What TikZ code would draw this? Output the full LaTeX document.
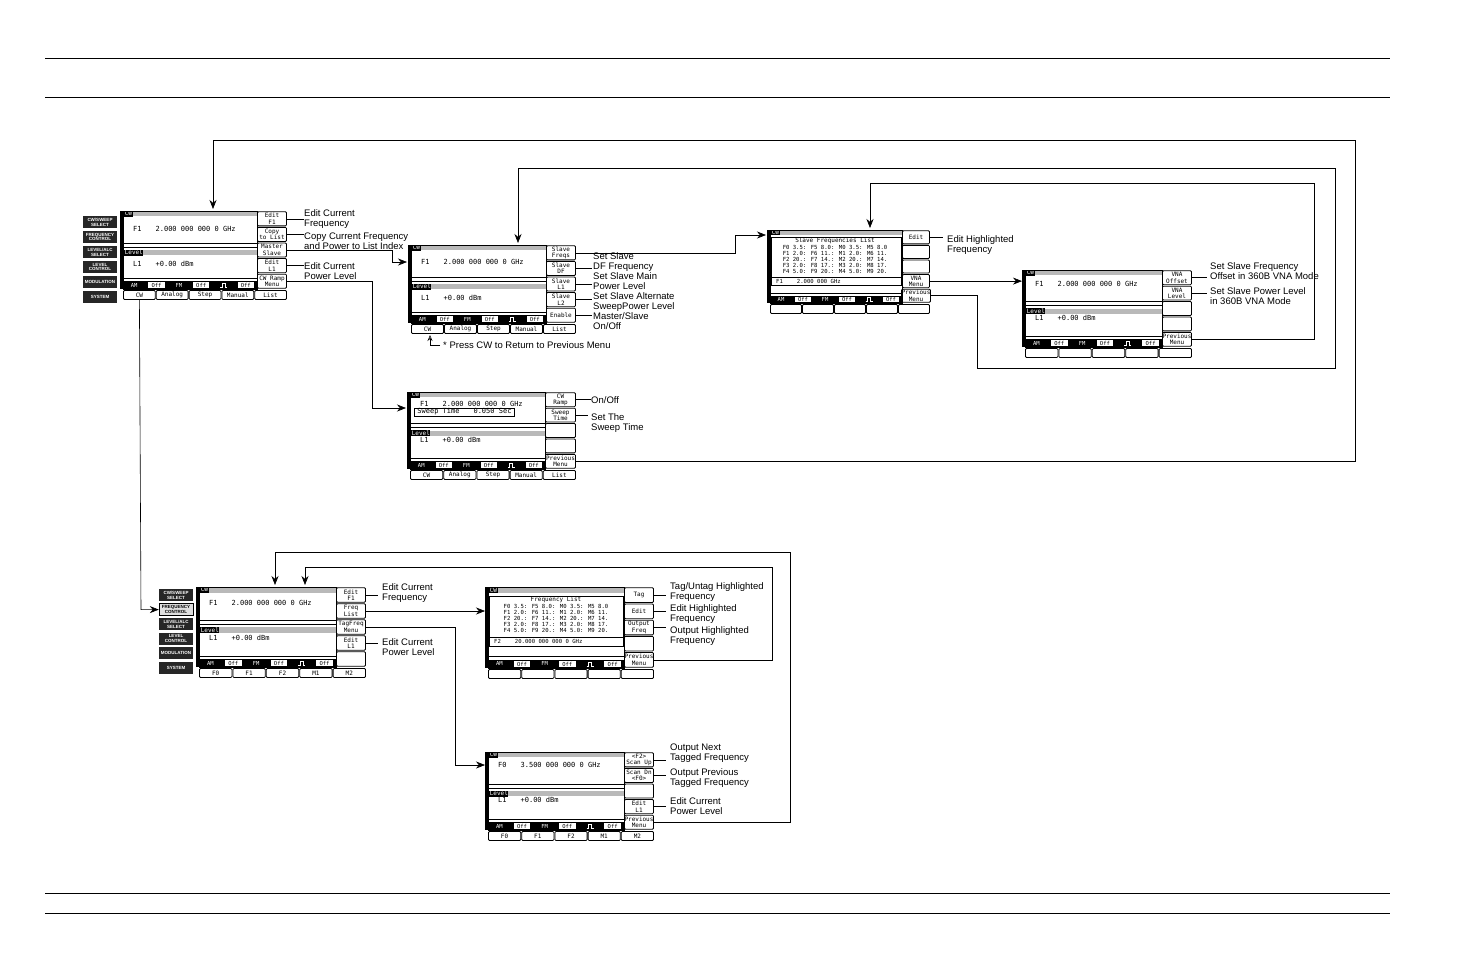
\documentclass[tikz,border=0pt]{standalone}
\usepackage{fontspec}
\setmainfont{Liberation Sans}
\newfontfamily\mono{DejaVu Sans Mono}
\usetikzlibrary{arrows.meta,calc}
\tikzset{
 hatchc/.style={fill=gray!55},
 hdr/.style={fill=black,text=white,font=\mono\fontsize{6}{6}\selectfont,inner sep=0.6pt,anchor=west},
 keyb/.style={draw,thick,rounded corners=1pt,font=\mono\fontsize{6}{6.5}\selectfont,align=center,inner sep=0pt},
 tabb/.style={draw,thick,rounded corners=1pt,font=\mono\fontsize{6}{6.5}\selectfont,inner sep=0pt},
 scrtxt/.style={font=\mono\fontsize{7}{7}\selectfont,anchor=west,inner sep=0pt},
 lbl/.style={font=\fontsize{9.5}{10}\selectfont,align=left,anchor=west,inner sep=0pt},
 conn/.style={line width=0.6pt},
 arr/.style={line width=0.6pt,-{Stealth[length=9pt,width=7pt]}},
 pnl/.style={fill=black!85,text=white,font=\fontsize{4.5}{4.8}\selectfont\bfseries,align=center,inner sep=0pt,minimum width=34,minimum height=12},
}
\newcommand\pulse{\tikz[white,line width=.6pt,baseline=0pt]\draw (0,0)--(2pt,0)--(2pt,4pt)--(5pt,4pt)--(5pt,0)--(7pt,0);}
\newcommand\gap{\hspace{14pt}}
% #1 name #2 x #3 y #4 W #5 H #6 KW #7 keys #8 tabs
\newcommand\scr[8]{%
 \coordinate (#1nw) at (#2,#3);
 \fill (#2-3,#3) rectangle (#2,#3+#5);
 \fill[hatchc] (#2,#3) rectangle (#2+#4,#3+0.07*#5);
 \node[hdr] at (#2+1,#3+0.035*#5) {CW};
 \draw (#2,#3+0.41*#5) -- ++(#4,0);
 \draw (#2,#3+0.46*#5) -- ++(#4,0);
 \fill[hatchc] (#2,#3+0.5*#5) rectangle (#2+#4,#3+0.57*#5);
 \node[hdr] at (#2+1,#3+0.535*#5) {Level};
 \draw (#2,#3+0.86*#5) -- ++(#4,0);
 \fill (#2,#3+0.9*#5) rectangle (#2+#4,#3+#5);
 \foreach \s [count=\j] in {AM,Off,FM,Off,\pulse,Off}{
   \ifodd\j
    \node[font=\mono\fontsize{5.5}{6}\selectfont,text=white,inner sep=0pt] at ({#2+(\j-0.5)*#4/6},{#3+0.95*#5}) {\s};
   \else
    \node[fill=white,font=\mono\fontsize{5.5}{6}\selectfont,inner sep=0.5pt,minimum width={#4/6-6},minimum height={0.1*#5-2}] at ({#2+(\j-0.5)*#4/6},{#3+0.95*#5}) {\s};
   \fi}
 \draw[thick] (#2,#3) rectangle (#2+#4,#3+#5);
 \foreach \k [count=\i] in {#7}{
   \node[keyb,minimum width=#6-1,minimum height={#5/5-1.5}] (#1k\i) at ({#2+#4+#6/2},{#3+(\i-0.5)*#5/5}) {\k};}
 \foreach \t [count=\i] in {#8}{
   \node[tabb,minimum width={(#4+#6)/5-1},minimum height=9] (#1t\i) at ({#2+(\i-0.5)*(#4+#6)/5},{#3+#5+6}) {\t};}
}
\newcommand\panel[5]{%
 \foreach \p [count=\i] in {{CW/SWEEP\\SELECT},{FREQUENCY\\CONTROL},{LEVEL/ALC\\SELECT},{LEVEL\\CONTROL},MODULATION,SYSTEM}{
  \ifnum\i=#4
   \node[pnl,fill=gray!25,text=black,draw] (#5\i) at (#1,{#2+(\i-1)*#3}) {\p};
  \else
   \node[pnl] (#5\i) at (#1,{#2+(\i-1)*#3}) {\p};
  \fi}}
\newcommand\flist[1]{\begin{tabular}{@{}l@{}}F0 3.5: F5 8.0: M0 3.5: M5 8.0\\F1 2.0: F6 11.: M1 2.0: M6 11.\\F2 20.: F7 14.: M2 20.: M7 14.\\F3 2.0: F8 17.: M3 2.0: M8 17.\\F4 5.0: F9 20.: M4 5.0: M9 20.\end{tabular}}
\begin{document}
\begin{tikzpicture}[x=1pt,y=-1pt]
\useasboundingbox (0,0) rectangle (1475,954);
\draw[line width=0.8pt] (45,58) -- (1390,58);
\draw[line width=0.8pt] (45,97) -- (1390,97);
\draw[line width=0.8pt] (45,893) -- (1390,893);
\draw[line width=0.8pt] (45,913) -- (1390,913);

% Screen 1
\panel{100}{222}{15}{0}{pa}
\scr{s1}{123}{211}{134}{78}{30}{{Edit\\F1},{Copy\\to List},{Master\\Slave},{Edit\\L1},{CW Ramp\\Menu}}{CW,Analog,Step,Manual,List}
\node[scrtxt] at (133,229) {F1\gap 2.000 000 000 0 GHz};
\node[scrtxt] at (133,264) {L1\gap +0.00 dBm};
\node[lbl] (a1) at (304,219) {Edit Current\\Frequency};
\node[lbl] (a2) at (304,241) {Copy Current Frequency\\and Power to List Index};
\node[lbl] (a3) at (304,271) {Edit Current\\Power Level};
\draw[conn] (s1k1.east) -- (a1.west|-s1k1.east);
\draw[conn] (s1k2.east) -- (a2.west|-s1k2.east);
\draw[conn] (s1k4.east) -- (a3.west|-s1k4.east);

% Screen 2
\scr{s2}{411}{245}{135}{78}{30}{{Slave\\Freqs},{Slave\\DF},{Slave\\L1},{Slave\\L2},Enable}{CW,Analog,Step,Manual,List}
\node[scrtxt] at (421,262) {F1\gap 2.000 000 000 0 GHz};
\node[scrtxt] at (421,298) {L1\gap +0.00 dBm};
\node[lbl,anchor=north west] (b0) at (593,252) {Set Slave\\DF Frequency\\Set Slave Main\\Power Level\\Set Slave Alternate\\SweepPower Level\\Master/Slave\\On/Off};
\draw[conn] (s2k2.east) -- (592,0 |- s2k2.east);
\draw[conn] (s2k3.east) -- (592,0 |- s2k3.east);
\draw[conn] (s2k4.east) -- (592,0 |- s2k4.east);
\draw[conn] (s2k5.east) -- (592,0 |- s2k5.east);
\coordinate (pc) at (430,345);
\draw[line width=0.6pt,-{Stealth[length=6pt,width=5pt,open]}] ($(pc)+(10,0)$) -- (pc) -- ($(pc)+(0,-10)$);
\node[lbl] at (443,345) {* Press CW to Return to Previous Menu};

% Screen 3
\scr{s3}{410}{392}{135}{77}{31}{{CW\\Ramp},{Sweep\\Time},{},{},{Previous\\Menu}}{CW,Analog,Step,Manual,List}
\node[scrtxt] at (420,404) {F1\gap 2.000 000 000 0 GHz};
\node[draw,thick,fill=white,scrtxt,minimum height=8,inner xsep=3pt,inner ysep=0.5pt] at (414,412) {Sweep Time\gap 0.050 Sec\hspace{8pt}};
\node[scrtxt] at (420,440) {L1\gap +0.00 dBm};
\node[lbl] (c1) at (591,400) {On/Off};
\node[lbl,anchor=north west] (c2) at (591,413) {Set The\\Sweep Time};
\draw[conn] (s3k1.east) -- (c1.west|-s3k1.east);
\draw[conn] (s3k2.east) -- (588,0 |- s3k2.east);

% Screen 4
\scr{s4}{770}{230}{132}{73}{28}{Edit,{},{},{VNA\\Menu},{Previous\\Menu}}{{},{},{},{},{}}
\node[draw,thick,fill=white,minimum width=130,minimum height=48,inner sep=0pt,anchor=north west] at (771,237) {};
\node[font=\mono\fontsize{6}{6}\selectfont,inner sep=0pt] at (835,241) {Slave Frequencies List};
\node[font=\mono\fontsize{5.6}{5.9}\selectfont,inner sep=0pt,anchor=north] at (835,245.5) {\flist{}};
\draw (771,277) -- (901,277);
\node[scrtxt,font=\mono\fontsize{5.6}{6}\selectfont] at (776,281) {F1\gap 2.000 000 GHz};
\node[lbl,anchor=north west] (d1) at (947,235) {Edit Highlighted\\Frequency};
\draw[conn] (s4k1.east) -- (943,0 |- s4k1.east);

% Screen 5
\scr{s5}{1025}{270}{137}{77}{30}{{VNA\\Offset},{VNA\\Level},{},{},{Previous\\Menu}}{{},{},{},{},{}}
\node[scrtxt] at (1035,284) {F1\gap 2.000 000 000 0 GHz};
\node[scrtxt] at (1035,318) {L1\gap +0.00 dBm};
\node[lbl,anchor=north west] (e1) at (1210,262) {Set Slave Frequency\\Offset in 360B VNA Mode};
\node[lbl,anchor=north west] (e2) at (1210,287) {Set Slave Power Level\\in 360B VNA Mode};
\draw[conn] (s5k1.east) -- (1207,0 |- s5k1.east);
\draw[conn] (s5k2.east) -- (1207,0 |- s5k2.east);

% Screen 6
\panel{176}{595}{14.6}{2}{pb}
\scr{s6}{199}{587}{137}{80}{30}{{Edit\\F1},{Freq\\List},{TagFreq\\Menu},{Edit\\L1},{}}{F0,F1,F2,M1,M2}
\node[scrtxt] at (209,603) {F1\gap 2.000 000 000 0 GHz};
\node[scrtxt] at (209,638) {L1\gap +0.00 dBm};
\node[lbl,anchor=north west] (f1) at (382,583) {Edit Current\\Frequency};
\node[lbl,anchor=north west] (f2) at (382,638) {Edit Current\\Power Level};
\draw[conn] (s6k1.east) -- (378,0 |- s6k1.east);
\draw[conn] (s6k4.east) -- (378,0 |- s6k4.east);

% Screen 7
\scr{s7}{488}{587}{136}{81}{30}{Tag,Edit,{Output\\Freq},{},{Previous\\Menu}}{{},{},{},{},{}}
\node[draw,thick,fill=white,minimum width=134,minimum height=50,inner sep=0pt,anchor=north west] at (489,596) {};
\node[font=\mono\fontsize{6}{6}\selectfont,inner sep=0pt] at (556,600) {Frequency List};
\node[font=\mono\fontsize{5.6}{5.9}\selectfont,inner sep=0pt,anchor=north] at (556,604.5) {\flist{}};
\draw (489,637) -- (623,637);
\node[scrtxt,font=\mono\fontsize{5.6}{6}\selectfont] at (494,641) {F2\gap 20.000 000 000 0 GHz};
\node[lbl,anchor=north west] (g1) at (670,582) {Tag/Untag Highlighted\\Frequency};
\node[lbl,anchor=north west] (g2) at (670,604) {Edit Highlighted\\Frequency};
\node[lbl,anchor=north west] (g3) at (670,626) {Output Highlighted\\Frequency};
\draw[conn] (s7k1.east) -- (666,0 |- s7k1.east);
\draw[conn] (s7k2.east) -- (666,0 |- s7k2.east);
\draw[conn] (s7k3.east) -- (666,0 |- s7k3.east);

% Screen 8
\scr{s8}{488}{752}{136}{78}{30}{{<F2>\\Scan Up},{Scan Dn\\<F0>},{},{Edit\\L1},{Previous\\Menu}}{F0,F1,F2,M1,M2}
\node[scrtxt] at (498,765) {F0\gap 3.500 000 000 0 GHz};
\node[scrtxt] at (498,800) {L1\gap +0.00 dBm};
\node[lbl,anchor=north west] (h1) at (670,744) {Output Next\\Tagged Frequency};
\node[lbl,anchor=north west] (h2) at (670,768) {Output Previous\\Tagged Frequency};
\node[lbl,anchor=north west] (h3) at (670,797) {Edit Current\\Power Level};
\draw[conn] (s8k1.east) -- (666,0 |- s8k1.east);
\draw[conn] (s8k2.east) -- (666,0 |- s8k2.east);
\draw[conn] (s8k4.east) -- (666,0 |- s8k4.east);

% connectors
\draw[arr] (s3k5.east) -- (1355,0 |- s3k5.east) -- (1355,140) -- (213,140) -- (213,209);
\draw[arr] (s4k5.east) -- (977,0 |- s4k5.east) -- (977,368) -- (1335,368) -- (1335,168) -- (518,168) -- (518,243);
\draw[arr] (s5k5.east) -- (1314,0 |- s5k5.east) -- (1314,183) -- (870,183) -- (870,228);
\draw[arr] (s4k4.east) -- (1022,0 |- s4k4.east);
\draw[arr] (s2k1.east) -- (735,0 |- s2k1.east) -- (735,235) -- (766,235);
\draw[arr] (s1k3.east) -- (392,0 |- s1k3.east) -- (392,262) -- (407,262);
\draw[arr] (s1k5.east) -- (372,0 |- s1k5.east) -- (372,408) -- (406,408);
\draw[arr] (s1t1.south) -- (141,0 |- pb2.west) -- (pb2.west);
\draw[arr] (s6k2.east) -- (485,0 |- s6k2.east);
\draw[arr] (s6k3.east) -- (455,0 |- s6k3.east) -- (455,765) -- (485,765);
\draw[arr] (s7k5.east) -- (772,0 |- s7k5.east) -- (772,567) -- (305,567) -- (305,585);
\draw[arr] (s8k5.east) -- (790,0 |- s8k5.east) -- (790,552) -- (275,552) -- (275,585);
\end{tikzpicture}
\end{document}
